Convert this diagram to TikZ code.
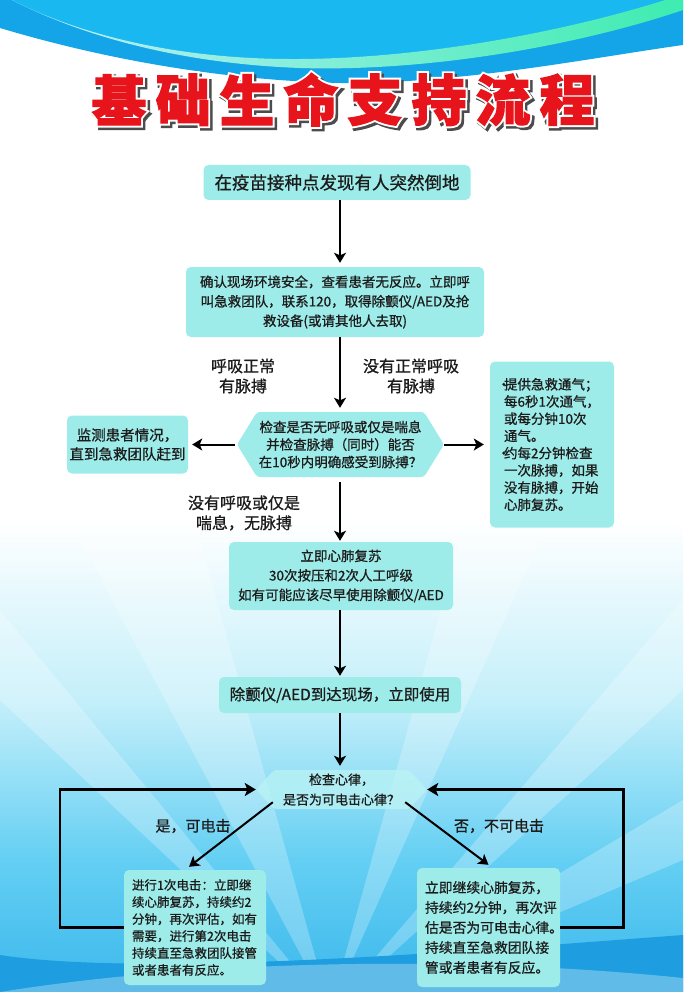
\documentclass[tikz,border=0pt]{standalone}
\usepackage{fontspec}
\setmainfont{Noto Sans CJK SC}[FakeBold=0.8]
\newfontfamily\titlefill{Noto Sans CJK SC}[BoldFeatures={FakeBold=2}]
\newfontfamily\titleedge{Noto Sans CJK SC}[BoldFeatures={FakeBold=9}]
\usetikzlibrary{arrows.meta}

\definecolor{boxcyan}{RGB}{158,236,233}
\definecolor{palecyan}{RGB}{186,244,244}
\definecolor{titlered}{RGB}{232,20,28}
\definecolor{inkgray}{RGB}{28,28,28}
\definecolor{skyblue}{RGB}{20,165,232}
\definecolor{skycyan}{RGB}{26,184,240}
\definecolor{bandpale}{RGB}{190,240,250}
\definecolor{bandgreen}{RGB}{62,236,176}
\definecolor{bglight}{RGB}{196,239,250}
\definecolor{bgmid}{RGB}{100,207,243}
\definecolor{bglow}{RGB}{60,184,236}
\definecolor{bgdeep}{RGB}{30,158,224}

% Titelzeichen: Schatten, weisser Rand, rote Fuellung
\newcommand{\titleglyph}[1]{%
	\makebox[0pt][l]{\hspace{2.5pt}\raisebox{-2.5pt}{\color{black!70}\titleedge\bfseries #1}}%
	\makebox[0pt][l]{\color{white}\titleedge\bfseries #1}%
	{\color{titlered}\titlefill\bfseries #1}}

\begin{document}
\begin{tikzpicture}[x=1pt,y=-1pt,
	box/.style={fill=boxcyan, rounded corners=5pt, inner sep=0pt, align=center, text=inkgray},
	plain/.style={inner sep=0pt, align=center, text=inkgray},
	lbl/.style={align=center, text=inkgray, font=\fontsize{16}{20}\selectfont},
	arr/.style={line width=2pt, -{Stealth[length=10pt,width=12pt,inset=2.5pt]}, shorten >=4pt},
	backarr/.style={line width=2.6pt, -{Stealth[length=11pt,width=13pt,inset=2.5pt]}},
	titlechar/.style={inner sep=0pt, font=\fontsize{55}{55}\selectfont}]
	\useasboundingbox (0,0) rectangle (683,992);

	% Hintergrund
	\fill[white] (0,0) rectangle (683,992);
	\shade[top color=white, bottom color=bglight] (0,520) rectangle (683,700);
	\shade[top color=bglight, bottom color=bgmid] (0,700) rectangle (683,860);
	\shade[top color=bgmid, bottom color=bglow] (0,860) rectangle (683,992);
	\foreach \ax/\ay/\bx/\by in {0/610/0/700, 80/540/200/540, 460/540/540/540, 683/600/683/690, 683/800/683/860} {
		\fill[white, opacity=0.25] (330,1010) -- (\ax,\ay) -- (\bx,\by) -- cycle;
	}
	\fill[bgdeep] (0,992) -- (0,955) .. controls (150,978) and (480,950) .. (683,935) -- (683,992) -- cycle;
	\fill[white, opacity=0.3] (0,992) .. controls (200,960) and (460,955) .. (683,978) -- (683,992) -- cycle;

	\fill[skyblue] (0,0) -- (683,0) -- (683,45) .. controls (590,58) and (460,84) .. (340,83) .. controls (210,80) and (90,55) .. (0,28) -- cycle;
	\fill[skycyan] (12,0) .. controls (80,35) and (180,60) .. (300,59) .. controls (430,58) and (570,30) .. (665,0) -- cycle;
	\shade[left color=bandpale, right color=bandgreen] (12,0) .. controls (80,35) and (180,60) .. (300,59) .. controls (430,58) and (570,30) .. (665,0) -- (683,0) -- (683,10) .. controls (580,45) and (430,72) .. (300,68) .. controls (190,64) and (90,40) .. (12,0) -- cycle;

	% Titel
	\foreach \c [count=\i] in {基,础,生,命,支,持,流,程} {
		\node[titlechar] (t\i) at (55+64*\i,101) {\titleglyph{\c}};
	}

	% Kaesten
	\node[box, minimum width=267, minimum height=35, font=\fontsize{17.5}{20}\selectfont] (find) at (337,182.5) {在疫苗接种点发现有人突然倒地};
	\node[box, minimum width=298, minimum height=70, font=\fontsize{13.5}{19.5}\selectfont] (call) at (335,302) {确认现场环境安全，查看患者无反应。立即呼\\叫急救团队，联系120，取得除颤仪/AED及抢\\救设备(或请其他人去取)};

	\node[lbl] (normal) at (243,376) {呼吸正常\\有脉搏};
	\node[lbl] (abnormal) at (411,376) {没有正常呼吸\\有脉搏};

	\fill[boxcyan, rounded corners=3pt] (237,444.5) -- (257,412) -- (424,412) -- (444,444.5) -- (424,477) -- (257,477) -- cycle;
	\node[plain, minimum width=207, minimum height=65, font=\fontsize{13.5}{17.5}\selectfont] (chk) at (340.5,444.5) {检查是否无呼吸或仅是喘息\\并检查脉搏（同时）能否\\在10秒内明确感受到脉搏？};

	\node[box, minimum width=121, minimum height=58, font=\fontsize{14.5}{19}\selectfont] (watch) at (127.5,444.5) {监测患者情况，\\直到急救团队赶到};
	\node[box, minimum width=124, minimum height=166, text width=110, align=left, font=\fontsize{13.5}{17.2}\selectfont] (vent) at (552,444.5) {\makebox[7pt][l]{·}提供急救通气；\\
		\hspace*{7pt}每6秒1次通气，\\
		\hspace*{7pt}或每分钟10次\\
		\hspace*{7pt}通气。\\
		\makebox[7pt][l]{·}约每2分钟检查\\
		\hspace*{7pt}一次脉搏，如果\\
		\hspace*{7pt}没有脉搏，开始\\
		\hspace*{7pt}心肺复苏。};

	\node[lbl] (nobreath) at (244,513) {没有呼吸或仅是\\喘息，无脉搏};

	\node[box, minimum width=224, minimum height=68, font=\fontsize{13.5}{19.5}\selectfont] (cpr) at (341,576) {立即心肺复苏\\30次按压和2次人工呼级\\如有可能应该尽早使用除颤仪/AED};
	\node[box, minimum width=242, minimum height=36, font=\fontsize{15.5}{18}\selectfont] (aed) at (340,695) {除颤仪/AED到达现场，立即使用};

	\fill[palecyan, opacity=0.75, rounded corners=3pt] (256,789.5) -- (274,770) -- (409,770) -- (427,789.5) -- (409,809) -- (274,809) -- cycle;
	\node[plain, minimum width=171, minimum height=39, font=\fontsize{13}{20}\selectfont] (rhythm) at (341.5,789.5) {检查心律，\\是否为可电击心律？};

	\node[lbl, font=\fontsize{15}{18}\selectfont] (yes) at (193,826) {是，可电击};
	\node[lbl, font=\fontsize{15}{18}\selectfont] (no) at (499,826) {否，不可电击};

	\node[box, minimum width=142, minimum height=115, text width=126, align=left, font=\fontsize{12.5}{17}\selectfont] (shockbox) at (195,927.5) {进行1次电击：立即继\\续心肺复苏，持续约2\\分钟，再次评估，如有\\需要，进行第2次电击\\持续直至急救团队接管\\或者患者有反应。};
	\node[box, minimum width=143, minimum height=119, text width=127, align=left, font=\fontsize{13.8}{20}\selectfont] (cprbox) at (488.5,927.5) {立即继续心肺复苏，\\持续约2分钟，再次评\\估是否为可电击心律。\\持续直至急救团队接\\管或者患者有反应。};

	% Pfeile
	\coordinate (axis) at (340,0);
	\draw[arr] (find.south -| axis) -- (call.north -| axis);
	\draw[arr] (call.south -| axis) -- (chk.north -| axis);
	\draw[arr, shorten <=5pt, shorten >=1pt] (chk.south -| axis) -- (cpr.north -| axis);
	\draw[arr, shorten >=1pt] (cpr.south -| axis) -- (aed.north -| axis);
	\draw[arr] (aed.south -| axis) -- (rhythm.north -| axis);
	\draw[arr, shorten <=2pt] (chk.west) -- (watch.east);
	\draw[arr, shorten >=6pt] (chk.east) -- (vent.west);

	\draw[arr, shorten >=0pt] ([xshift=17pt,yshift=7pt]rhythm.south west) -- ([xshift=-6pt,yshift=3pt]shockbox.north);
	\draw[arr, shorten >=0pt] ([xshift=-22pt,yshift=7pt]rhythm.south east) -- ([yshift=3pt]cprbox.north);
	\draw[backarr] (shockbox.west) -- ++(-64,0) |- (rhythm.west);
	\draw[backarr] (cprbox.east) -- ++(63,0) |- (rhythm.east);
\end{tikzpicture}
\end{document}
